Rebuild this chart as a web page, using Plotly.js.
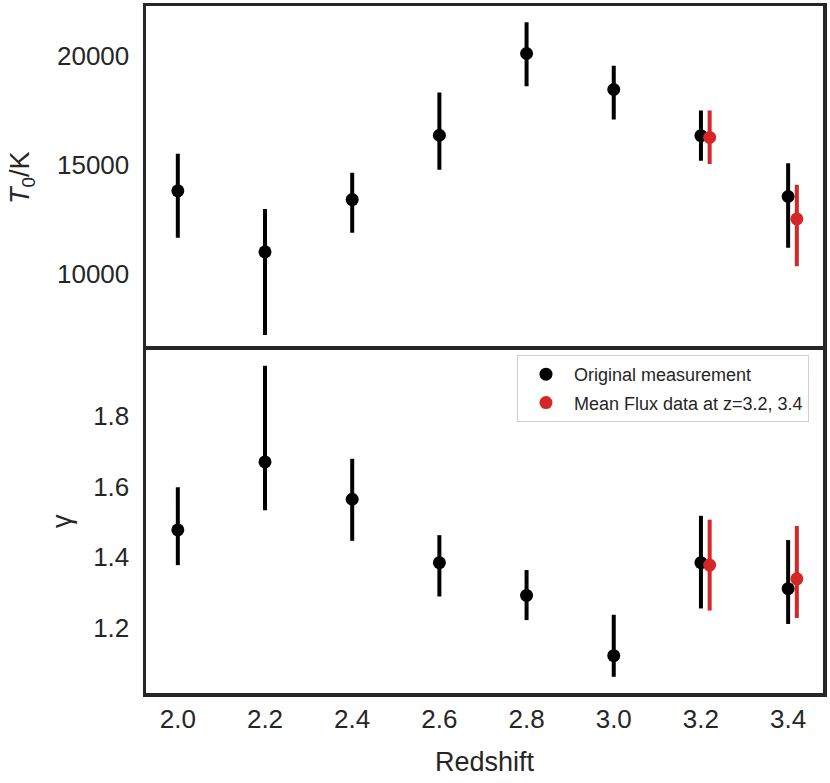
<!DOCTYPE html>
<html>
<head>
<meta charset="utf-8">
<script src="https://cdn.plot.ly/plotly-3.0.1.min.js"></script>
<style>
  html, body { margin: 0; padding: 0; background: #fff; }
  #chart { width: 830px; height: 783px; }
</style>
</head>
<body>
<div id="chart"></div>
<script>
// original measurements
const redshift = [2.0, 2.2, 2.4, 2.6, 2.8, 3.0, 3.2, 3.4];
const T0 = [13800, 11000, 13400, 16350, 20100, 18450, 16330, 13540];
const T0ErrUp = [1700, 1970, 1230, 1960, 1430, 1090, 1150, 1530];
const T0ErrDown = [2150, 3820, 1520, 1580, 1500, 1380, 1150, 2350];
const gamma = [1.477, 1.670, 1.564, 1.384, 1.291, 1.120, 1.384, 1.310];
const gammaErrUp = [0.121, 0.273, 0.115, 0.078, 0.072, 0.116, 0.133, 0.138];
const gammaErrDown = [0.100, 0.137, 0.118, 0.096, 0.070, 0.060, 0.130, 0.100];

// mean flux data at z=3.2, 3.4
const redshiftMF = [3.2, 3.4];
const T0MF = [16250, 12510];
const T0MFErrUp = [1230, 1565];
const T0MFErrDown = [1220, 2165];
const gammaMF = [1.377, 1.338];
const gammaMFErrUp = [0.129, 0.150];
const gammaMFErrDown = [0.129, 0.111];

const T0Ticks = [10000, 15000, 20000];
const gammaTicks = [1.2, 1.4, 1.6, 1.8];

// red points are nudged right so they don't sit on top of the black ones
const offsetMF = 0.02;
const xMF = redshiftMF.map(z => z + offsetMF);

const BLACK = '#000000';
const RED = '#d62728';
const FRAME = '#262626';

function errTrace(x, y, up, down, color, name, group, xa, ya, showlegend) {
    return {
        x: x, y: y,
        type: 'scatter', mode: 'markers',
        name: name, legendgroup: group,
        xaxis: xa, yaxis: ya,
        showlegend: showlegend,
        marker: { size: 13, color: color },
        error_y: {
            type: 'data', symmetric: false,
            array: up, arrayminus: down,
            color: color, thickness: 4, width: 0
        }
    };
}

const traces = [
    errTrace(redshift, T0, T0ErrUp, T0ErrDown, BLACK, 'Original measurement', 'orig', 'x', 'y', false),
    errTrace(xMF, T0MF, T0MFErrUp, T0MFErrDown, RED, 'Mean Flux data at z=3.2, 3.4', 'mf', 'x', 'y', false),
    errTrace(redshift, gamma, gammaErrUp, gammaErrDown, BLACK, 'Original measurement', 'orig', 'x2', 'y2', true),
    errTrace(xMF, gammaMF, gammaMFErrUp, gammaMFErrDown, RED, 'Mean Flux data at z=3.2, 3.4', 'mf', 'x2', 'y2', true)
];

const axisBase = {
    showgrid: false, zeroline: false, ticks: '',
    showline: true, mirror: true, linecolor: FRAME, linewidth: 3.5,
    tickfont: { size: 26, color: FRAME }
};
const xRange = [1.927, 3.48];

const layout = {
    width: 830, height: 783,
    margin: { l: 146, r: 7, t: 6, b: 90 },
    paper_bgcolor: '#ffffff', plot_bgcolor: '#ffffff',
    font: { family: 'Liberation Sans, Arial, sans-serif', color: FRAME },
    showlegend: true,
    legend: {
        x: 0.548, y: 0.492, xanchor: 'left', yanchor: 'top',
        bgcolor: '#ffffff', bordercolor: '#d0d0d0', borderwidth: 1,
        font: { size: 18, color: FRAME },
        itemwidth: 46, tracegroupgap: 2
    },
    // top panel: only the top edge, the shared middle edge comes from the lower panel
    xaxis: Object.assign({}, axisBase, {
        domain: [0, 1], anchor: 'y', range: xRange, showticklabels: false,
        side: 'top', mirror: false, tickvals: redshift
    }),
    yaxis: Object.assign({}, axisBase, {
        domain: [0.5, 1], anchor: 'x', range: [6520, 22280],
        tickvals: T0Ticks, ticktext: T0Ticks.map(v => String(v)),
        ticklabelstandoff: 8,
        title: { text: '<i>T</i><sub>0</sub>/K', font: { size: 27, color: FRAME }, standoff: 20 }
    }),
    xaxis2: Object.assign({}, axisBase, {
        domain: [0, 1], anchor: 'y2', range: xRange,
        tickvals: redshift, ticktext: redshift.map(z => z.toFixed(1)),
        title: { text: 'Redshift', font: { size: 27, color: FRAME }, standoff: 20 }
    }),
    yaxis2: Object.assign({}, axisBase, {
        domain: [0, 0.5], anchor: 'x2', range: [1.014, 1.989],
        tickvals: gammaTicks, ticktext: gammaTicks.map(v => v.toFixed(1)),
        ticklabelstandoff: 8,
        title: { text: 'γ', font: { size: 27, color: FRAME }, standoff: 14 }
    })
};

Plotly.newPlot('chart', traces, layout, { displayModeBar: false, staticPlot: true });
</script>
</body>
</html>
